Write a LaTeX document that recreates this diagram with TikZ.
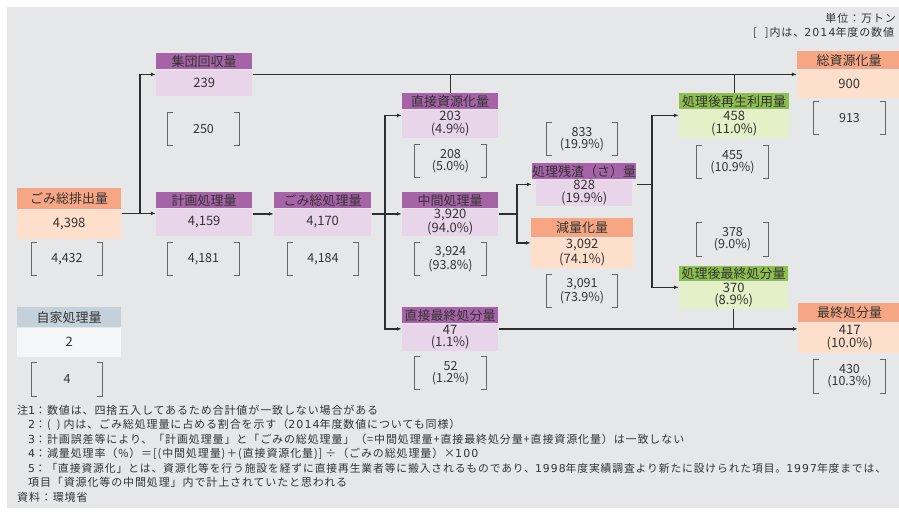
\documentclass[tikz,border=0pt]{standalone}
\usepackage{fontspec}
\setmainfont{Noto Sans CJK JP}
\newfontfamily\notefont{Noto Sans CJK JP}[LetterSpace=8]
\newfontfamily\dg{DejaVu Sans}[LetterSpace=10]
\usetikzlibrary{arrows.meta,fit,calc}
\definecolor{bg}{HTML}{E6E7E9}
\definecolor{purH}{HTML}{A763A8}
\definecolor{purB}{HTML}{E9D5EA}
\definecolor{salH}{HTML}{F6A683}
\definecolor{salB}{HTML}{FDDFCC}
\definecolor{grnH}{HTML}{8DBF4E}
\definecolor{grnB}{HTML}{E4F0C7}
\definecolor{gryH}{HTML}{C4D1DA}
\definecolor{gryB}{HTML}{F5F6F8}
\definecolor{lnc}{HTML}{2E2E2E}
\definecolor{brkc}{HTML}{666666}
\definecolor{txt}{HTML}{333333}
\tikzset{
 hdr/.style={rectangle, inner sep=0pt, anchor=north west, font=\fontsize{13}{13}\selectfont, text=txt},
 bdy/.style={rectangle, inner sep=0pt, anchor=north, align=center, font=\fontsize{13}{12.5}\selectfont, text=txt},
 whole/.style={inner sep=0pt, draw=none},
 brk/.style={inner sep=0pt, align=center, font=\fontsize{12.5}{12}\selectfont, text=txt},
 brkline/.style={draw=brkc, line width=1pt},
 arr/.style={draw=lnc, line width=1.3pt, -{Latex[length=5pt,width=4pt]}},
 ln/.style={draw=lnc, line width=1.3pt},
 note/.style={anchor=west, inner sep=0pt, font=\notefont\fontsize{11}{12}\selectfont, text=txt},
}
% name, x1, x2, header top, header bottom, body bottom, colour set, header text, body text
\newcommand\flowbx[9]{%
 \node[hdr, fill=#7H, minimum width=#3pt-#2pt, minimum height=#5pt-#4pt] (#1h) at (#2,#4) {#8};
 \node[bdy, fill=#7B, minimum width=#3pt-#2pt, minimum height=#6pt-#5pt] (#1b) at (#1h.south) {#9};
 \node[whole, fit=(#1h)(#1b)] (#1) {};}
% name, centre, width, height, text
\newcommand\brkt[5]{%
 \node[brk, minimum width=#3pt, minimum height=#4pt] (#1) at (#2) {#5};
 \draw[brkline] ([xshift=5pt]#1.north west) -| (#1.south west) -- ++(5,0);
 \draw[brkline] ([xshift=-5pt]#1.north east) -| (#1.south east) -- ++(-5,0);}
\begin{document}
\begin{tikzpicture}[x=1pt,y=-1pt]
\useasboundingbox (0,0) rectangle (899,512);
\clip (0,0) rectangle (899,512);
\fill[white] (0,0) rectangle (899,512);
\fill[bg] (7,7) rectangle (899,508);

% boxes
\flowbx{hai}{17}{121}{188}{209}{238}{sal}{ごみ総排出量}{4,398}
\flowbx{shu}{156}{252}{53}{69}{95}{pur}{集団回収量}{239}
\flowbx{kei}{156}{252}{192}{208}{235}{pur}{計画処理量}{4,159}
\flowbx{sos}{274}{371}{192}{208}{235}{pur}{ごみ総処理量}{4,170}
\flowbx{jik}{17}{121}{307}{327}{356}{gry}{自家処理量}{2}
\flowbx{cs}{402}{498}{93}{109}{137}{pur}{直接資源化量}{203\\(4.9\%)}
\flowbx{chu}{402}{498}{192}{208}{235}{pur}{中間処理量}{3,920\\(94.0\%)}
\flowbx{cf}{402}{498}{307}{323}{350}{pur}{直接最終処分量}{47\\(1.1\%)}
\flowbx{zan}{532}{628}{163}{179}{205}{pur}{処理残渣（さ）量}{828\\(19.9\%)}
\flowbx{gen}{531}{633}{218}{237}{267}{sal}{減量化量}{3,092\\(74.1\%)}
\flowbx{sai}{679}{789}{93}{109}{137}{grn}{処理後再生利用量}{458\\(11.0\%)}
\flowbx{saf}{679}{788}{266}{281}{308}{grn}{処理後最終処分量}{370\\(8.9\%)}
\flowbx{tot}{797}{901}{51}{69}{97}{sal}{総資源化量}{900}
\flowbx{fin}{798}{901}{303}{322}{352}{sal}{最終処分量}{417\\(10.0\%)}

% brackets (2014 values)
\brkt{khai}{67,259}{70}{32}{4,432}
\brkt{kshu}{203.5,129}{71}{32}{250}
\brkt{kkei}{203.5,259}{71}{32}{4,181}
\brkt{ksos}{323,259}{70}{32}{4,184}
\brkt{kjik}{67,379.5}{70}{33}{4}
\brkt{kcs}{450.5,161}{71}{32}{208\\(5.0\%)}
\brkt{kchu}{450.5,259}{71}{32}{3,924\\(93.8\%)}
\brkt{kcf}{450.5,373}{71}{32}{52\\(1.2\%)}
\brkt{kzan}{582,139}{70}{32}{833\\(19.9\%)}
\brkt{kgen}{582,291}{70}{32}{3,091\\(73.9\%)}
\brkt{ksai}{732.5,162}{71}{32}{455\\(10.9\%)}
\brkt{ksaf}{732.5,239.5}{71}{33}{378\\(9.0\%)}
\brkt{ktot}{849.5,118}{71}{32}{913}
\brkt{kfin}{849.5,376.5}{71}{33}{430\\(10.3\%)}

% connectors
\coordinate (b1) at (140,0);
\coordinate (b2) at (385,0);
\coordinate (b3) at (517,0);
\coordinate (b4) at (652,0);
\draw[arr] (hai.east) -- (hai.east -| kei.west);
\draw[arr] (hai.east -| b1) |- (shu.west);
\draw[arr] (kei.east) -- (kei.east -| sos.west);
\draw[arr] (sos.east) -- (sos.east -| chu.west);
\draw[arr] (sos.east -| b2) |- (cs.west);
\draw[arr] (sos.east -| b2) |- (cf.west);
\draw[arr] (shu.east) -- (shu.east -| tot.west);
\draw[ln] (cs.north) -- (cs.north |- shu.east);
\draw[ln] (sai.north) -- (sai.north |- shu.east);
\draw[arr] (chu.east) -- (chu.east -| b3) |- (zan.west);
\draw[arr] (chu.east -| b3) |- (gen.west);
\draw[arr] (zan.east) -- (zan.east -| b4) |- (sai.west);
\draw[arr] (zan.east -| b4) |- (saf.west);
\draw[arr] (cf.east) -- (cf.east -| fin.west);
\draw[ln] (saf.south) -- (saf.south |- cf.east);

% header texts
\node[note, anchor=east] (unit) at (896,18) {単位：万トン};
\node[note] (yr) at (753,33) {[\hspace{8pt}]内は、{\dg 2014}年度の数値};

% notes
\node[note] (n1) at (17,410) {注{\dg 1}：数値は、四捨五入してあるため合計値が一致しない場合がある};
\node[note] (n2) at (17,424.5) {\phantom{注}{\dg 2}：(\hspace{6pt})\hspace{3pt}内は、ごみ総処理量に占める割合を示す（{\dg 2014}年度数値についても同様）};
\node[note] (n3) at (17,439) {\phantom{注}{\dg 3}：計画誤差等により、「計画処理量」と「ごみの総処理量」（=中間処理量+直接最終処分量+直接資源化量）は一致しない};
\node[note] (n4) at (17,453.5) {\phantom{注}{\dg 4}：減量処理率（\%）＝[(中間処理量)＋(直接資源化量)]\hspace{3pt}÷（ごみの総処理量）×{\dg 100}};
\node[note, font=\notefont\fontsize{10.8}{12}\selectfont] (n5) at (17,468) {\phantom{注}{\dg 5}：「直接資源化」とは、資源化等を行う施設を経ずに直接再生業者等に搬入されるものであり、{\dg 1998}年度実績調査より新たに設けられた項目。{\dg 1997}年度までは、};
\node[note] (n6) at (17,482.5) {\phantom{注}項目「資源化等の中間処理」内で計上されていたと思われる};
\node[note] (n7) at (17,497) {資料：環境省};
\end{tikzpicture}
\end{document}
